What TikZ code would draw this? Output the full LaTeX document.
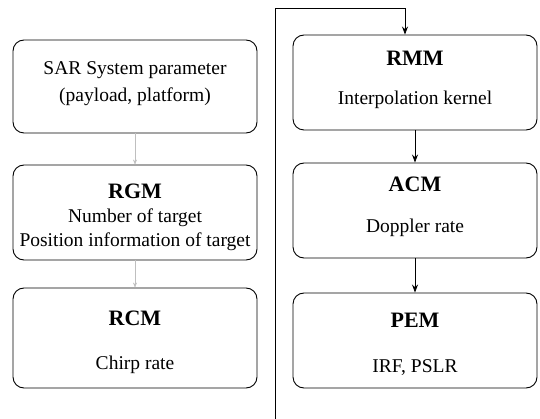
\documentclass[tikz,border=0pt]{standalone}
\usepackage{fontspec}
\setmainfont{Liberation Serif}
\usetikzlibrary{arrows.meta}
\begin{document}
\begin{tikzpicture}[x=1pt,y=-1pt,
  blk/.style={draw,line width=0.9pt,rounded corners=11pt,minimum width=244pt,inner sep=0pt},
  ttl/.style={font=\fontsize{22}{24}\selectfont\bfseries},
  txt/.style={font=\fontsize{19.5}{22}\selectfont},
  arr/.style={line width=0.8pt,-{Stealth[length=8pt,width=6pt]}},
  faint/.style={draw=black!25,line width=0.5pt,-{Stealth[length=5pt,width=4pt]}}]
\useasboundingbox (0,0) rectangle (540,419);
% left column
\node[blk,minimum height=93pt] (sar) at (135,86.5) {};
\node[blk,minimum height=95pt] (rgm) at (135,212.5) {};
\node[blk,minimum height=100pt] (rcm) at (135,338) {};
% right column
\node[blk,minimum height=95pt] (rmm) at (415,82.5) {};
\node[blk,minimum height=95pt] (acm) at (415,210.5) {};
\node[blk,minimum height=95pt] (pem) at (415,340.5) {};
% texts
\node[txt] (t1) at (135,70) {SAR System parameter};
\node[txt] (t2) at (135,97) {(payload, platform)};
\node[ttl] (t3) at (135,191) {RGM};
\node[txt] (t4) at (135,218) {Number of target};
\node[txt] (t5) at (135,242) {Position information of target};
\node[ttl] (t6) at (135,318) {RCM};
\node[txt] (t7) at (135,365) {Chirp rate};
\node[ttl] (t8) at (415,58) {RMM};
\node[txt] (t9) at (415,100) {Interpolation kernel};
\node[ttl] (t10) at (415,184) {ACM};
\node[txt] (t11) at (415,228) {Doppler rate};
\node[ttl] (t12) at (415,320) {PEM};
\node[txt] (t13) at (415,368) {IRF, PSLR};
% connectors
\draw[faint] (sar) -- (rgm);
\draw[faint] (rgm) -- (rcm);
\draw[arr] (rmm) -- (acm);
\draw[arr] (acm) -- (pem);
\coordinate (loopstart) at (275,419);
\draw[arr] (loopstart) -- (275,8) -| ([xshift=-10pt]rmm.north);
\end{tikzpicture}
\end{document}
